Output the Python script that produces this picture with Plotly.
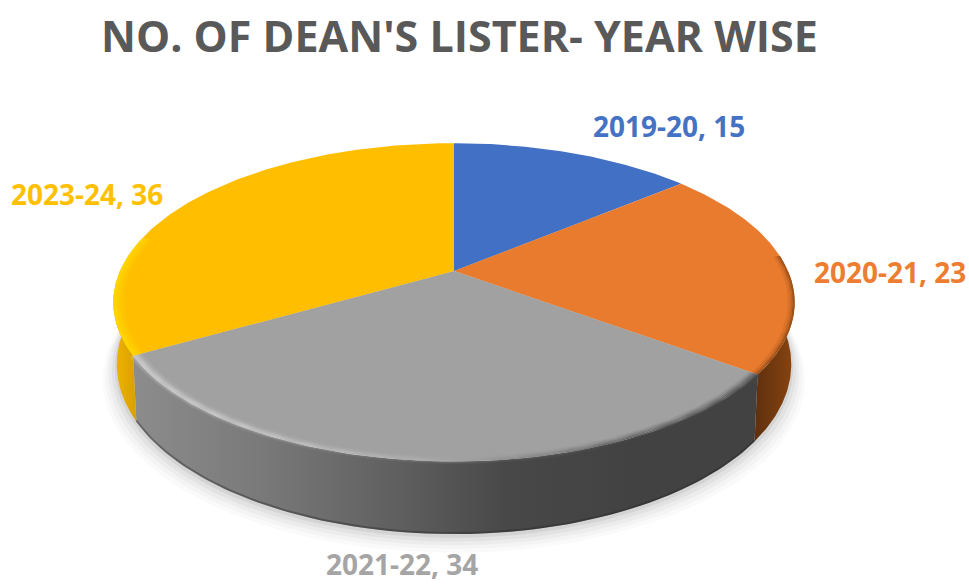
import numpy as np
import plotly.graph_objects as go

# ---- data ----
categories = ["2019-20", "2020-21", "2021-22", "2023-24"]
values = [15, 23, 34, 36]

# ---- styles ----
face_colors = ["#4170C4", "#E97B2E", "#A1A1A1", "#FFBF00"]
text_colors = ["#4472C4", "#ED7D31", "#A5A5A5", "#FFC000"]
wall_scales = [
    ["#2a4a80", "#2a4a80"],
    ["#5e300e", "#8a4410"],
    ["#8c8c8c", "#7a7a7a", "#626262", "#484848", "#424242", "#424242"],
    ["#f0b400", "#d9a000"],
]
label_pos = [(669, 126), (890, 272), (402, 564), (87, 194)]

# ---- projection of the tilted disc (page-pixel axis units) ----
CX, CY = 454.0, 271.0
RX, RY, PERSP = 334.0, 153.0, 0.197
DEPTH, SHRINK = 59.0, 0.99


def top(t, k=1.0):
    den = 1 + PERSP * np.cos(t)
    return CX + k * RX * np.sin(t) / den, CY - k * RY * np.cos(t) / den


def bottom(t, extra=0.0):
    den = 1 + PERSP * np.cos(t)
    return (CX + SHRINK * RX * np.sin(t) / den,
            CY - SHRINK * RY * np.cos(t) / den + (DEPTH + extra) / den + 1)


def poly(x, y, color=None, grad=None, x0=None, x1=None):
    kw = dict(x=x, y=y, mode="lines", fill="toself", line=dict(width=0),
              hoverinfo="skip", showlegend=False)
    if grad:
        n = len(grad)
        kw["fillgradient"] = dict(
            type="horizontal", start=x0, stop=x1,
            colorscale=[[i / (n - 1), c] for i, c in enumerate(grad)])
    else:
        kw["fillcolor"] = color
    return go.Scatter(**kw)


def band(t, k0, k1, **kw):
    ix, iy = top(t, k0)
    ox, oy = top(t, k1)
    return poly(np.r_[ix, ox[::-1]], np.r_[iy, oy[::-1]], **kw)


fig = go.Figure()

# boundaries of each slice, clockwise from the top
cum = np.cumsum([0] + values) / sum(values) * 2 * np.pi
spans = [(cum[i], cum[i + 1]) for i in range(len(values))]

# soft ground shadow
t_all = np.linspace(0, 2 * np.pi, 240)
for grow, alpha in [(15, .02), (12, .025), (9, .03), (6, .04), (3, .06)]:
    sx, sy = bottom(t_all, grow)
    sx = CX + (sx - CX) * (1 + (grow - 1) / 340)
    fig.add_trace(poly(sx, sy, f"rgba(0,0,0,{alpha})"))

# side walls: visible only on the front half
for i, (a, b) in enumerate(spans):
    a2, b2 = max(a, np.pi / 2), min(b, 3 * np.pi / 2)
    if b2 <= a2:
        continue
    t = np.linspace(a2, b2, 90)
    tx, ty = top(t)
    bx, by = bottom(t)
    fig.add_trace(poly(np.r_[tx, bx[::-1]], np.r_[ty, by[::-1]],
                       grad=wall_scales[i], x0=float(min(tx.min(), bx.min())),
                       x1=float(max(tx.max(), bx.max()))))

# dark hairline along the base of the grey wall
t = np.linspace(spans[2][0], spans[2][1], 120)
bx, by = bottom(t)
fig.add_trace(go.Scatter(x=bx, y=by - 1, mode="lines", hoverinfo="skip", showlegend=False,
                         line=dict(width=2, color="rgba(40,40,40,.4)")))

# top faces
for i, (a, b) in enumerate(spans):
    t = np.linspace(a, b, 120)
    fx, fy = top(t)
    fig.add_trace(poly(np.r_[CX, fx, CX], np.r_[CY, fy, CY], face_colors[i]))

# soft rim on the grey slice: white glow at left, dark blur at right
t = np.linspace(spans[2][0], spans[2][1], 150)
rim_bands = [(.970, .976, .05, .08), (.976, .982, .12, .22), (.982, .988, .26, .42),
             (.988, .994, .38, .62), (.994, 1.0, .42, .82),
             (1.0, 1.006, .22, .92), (1.006, 1.012, .08, .5)]
for k0, k1, w, d in rim_bands:
    fig.add_trace(band(t, k0, k1, grad=[
        f"rgba(255,255,255,{w})", f"rgba(255,255,255,{w * .8})", f"rgba(255,255,255,{w * .35})",
        f"rgba(110,110,110,{d * .35})", f"rgba(68,68,68,{d * .8})", f"rgba(68,68,68,{d})"],
        x0=135.0, x1=752.0))

# soft rim on the yellow and orange slices
t = np.linspace(spans[3][0], spans[3][0] + 0.75, 80)
for k0, k1, a in [(.97, .98, .3), (.98, .99, .6), (.99, 1.0, .9)]:
    fig.add_trace(band(t, k0, k1, color=f"rgba(255,214,0,{a})"))
t = np.linspace(np.pi / 2 - .1, spans[1][1], 60)
for k0, k1, a in [(.98, .988, .15), (.988, .994, .35), (.994, 1.0, .65)]:
    fig.add_trace(band(t, k0, k1, color=f"rgba(120,60,15,{a})"))

# data labels
for cat, val, col, (lx, ly) in zip(categories, values, text_colors, label_pos):
    fig.add_annotation(x=lx, y=ly, text=f"<b>{cat}, {val}</b>", showarrow=False,
                       font=dict(family="Open Sans", size=28, color=col))

fig.add_annotation(x=459, y=35, text="<b>NO. OF DEAN'S LISTER- YEAR WISE</b>", showarrow=False,
                   font=dict(family="Open Sans", size=43, color="#595959"))

fig.update_layout(
    width=969, height=584, margin=dict(l=0, r=0, t=0, b=0),
    paper_bgcolor="white", plot_bgcolor="white", showlegend=False,
    xaxis=dict(range=[0, 969], visible=False, fixedrange=True),
    yaxis=dict(range=[584, 0], visible=False, fixedrange=True),
)
fig.write_html("out.html", config={"displayModeBar": False},
               post_script="document.body.style.margin='0';document.body.style.overflow='hidden';")
